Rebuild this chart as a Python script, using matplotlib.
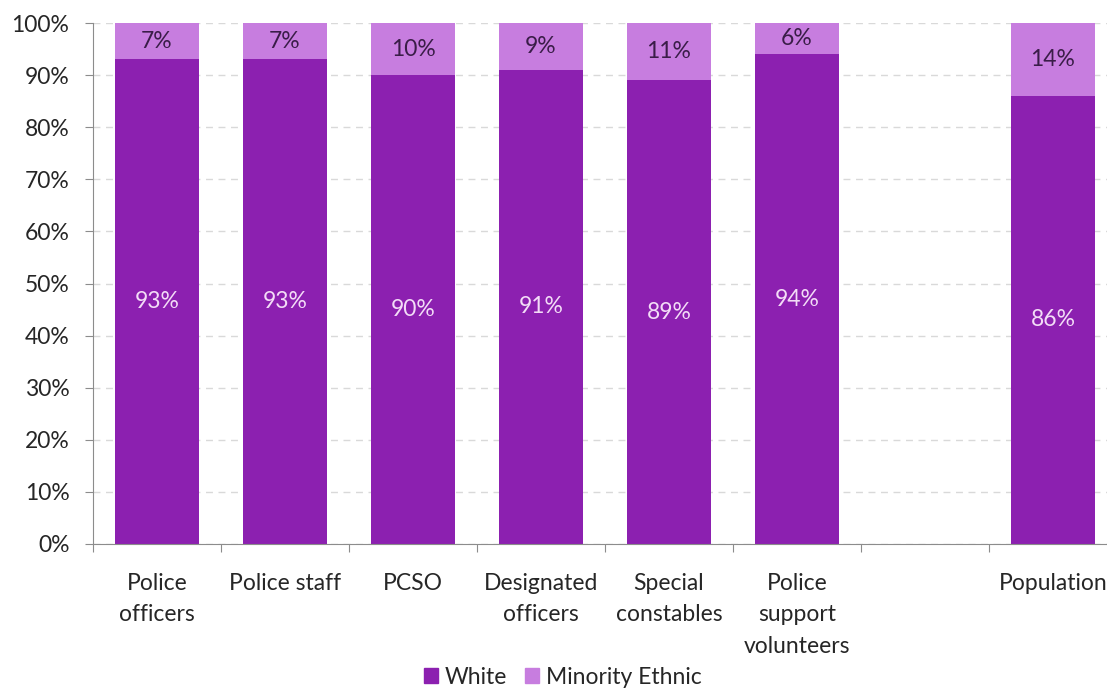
import numpy as np
import matplotlib.pyplot as plt
from matplotlib.ticker import PercentFormatter, FixedLocator
from matplotlib.patches import Patch

# Workforce ethnicity shares (%)
groups = ["Police\nofficers", "Police staff", "PCSO", "Designated\nofficers",
          "Special\nconstables", "Police\nsupport\nvolunteers", "", "Population"]
white = [93, 93, 90, 91, 89, 94, None, 86]
minority = [7, 7, 10, 9, 11, 6, None, 14]

white_col = "#8c20b0"
minority_col = "#c77ddf"
fs = 16.5

plt.rcParams["font.family"] = ["Lato", "DejaVu Sans"]

fig = plt.figure(figsize=(11.07, 6.9), dpi=100)
# axes run off the right edge so the last slot is cut like the original
ax = fig.add_axes([93 / 1107, 146 / 690, 1024 / 1107, 521 / 690])

x = np.arange(len(groups))
for i, (w, m) in enumerate(zip(white, minority)):
    if w is None:
        continue
    ax.bar(i, w, width=0.66, color=white_col, zorder=2)
    ax.bar(i, m, width=0.66, bottom=w, color=minority_col, zorder=2)
    ax.text(i, w / 2, f"{w}%", ha="center", va="center",
            color="#f3dcf7", fontsize=fs, zorder=3)
    ax.text(i, w + m / 2, f"{m}%", ha="center", va="center",
            color="#3a1d48", fontsize=fs, zorder=3)

ax.set_xlim(-0.5, len(groups) - 0.5)
ax.set_ylim(0, 100)
ax.set_yticks(np.arange(0, 101, 10))
ax.yaxis.set_major_formatter(PercentFormatter(decimals=0))
ax.grid(axis="y", color="#d9d9d9", linestyle=(0, (5, 4)), linewidth=1, zorder=0)

# category boundaries carry the tick marks, names sit between them
ax.xaxis.set_major_locator(FixedLocator(np.arange(-0.5, len(groups), 1)))
ax.xaxis.set_minor_locator(FixedLocator(x))
ax.set_xticklabels([])
ax.set_xticklabels(groups, minor=True)
ax.tick_params(axis="x", which="major", length=6, color="#8c8c8c", direction="out")
ax.tick_params(axis="x", which="minor", length=0, pad=21, labelsize=fs,
               labelcolor="#262626")
for lab in ax.get_xticklabels(minor=True):
    lab.set_linespacing(1.6)
    lab.set_va("top")
ax.tick_params(axis="y", length=6, color="#8c8c8c", labelsize=fs,
               labelcolor="#262626", pad=11)

for side in ["top", "right"]:
    ax.spines[side].set_visible(False)
for side in ["left", "bottom"]:
    ax.spines[side].set_color("#8c8c8c")
    ax.spines[side].set_zorder(4)

handles = [Patch(color=white_col, label="White"),
           Patch(color=minority_col, label="Minority Ethnic")]
fig.legend(handles=handles, loc="center", bbox_to_anchor=(563 / 1107, 13 / 690),
           ncol=2, frameon=False, fontsize=fs, handlelength=0.6, handleheight=0.6,
           handletextpad=0.3, columnspacing=0.8, labelcolor="#262626")

fig.savefig("out.png", dpi=100)
